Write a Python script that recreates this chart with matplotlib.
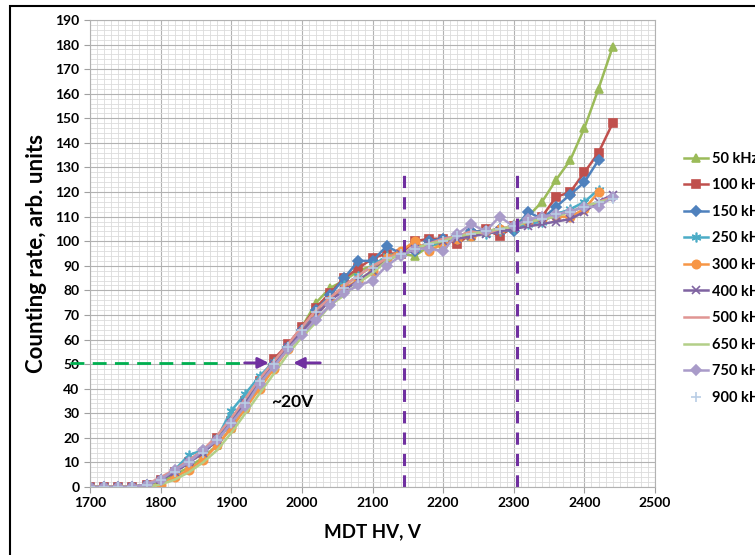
import numpy as np
import matplotlib
matplotlib.use("Agg")
import matplotlib.pyplot as plt
from matplotlib.patches import Rectangle
from matplotlib.ticker import MultipleLocator

plt.rcParams['font.family'] = ['Lato', 'DejaVu Sans']

# MDT high voltage, V (20 V steps)
hv = list(range(1700, 2441, 20))

nan = np.nan
# counting rate, arb. units, per rate setting
r50 = [0, 0, 0, 0, 1, 2, 5, 8, 12, 17, 24, 32, 41, 49, 57, 65, 75, 81, 84, 88, 90, 93, 95, 94,
       98, 99, 101, 102, 104, 104, 107, 110, 116, 125, 133, 146, 162, 179]
r100 = [0, 0, 0, 0, 1, 3, 6, 10, 14, 20, 27, 35, 43, 52, 58, 65, 73, 79, 85, 89, 93, 95, 95, 100,
        101, 101, 99, 103, 105, 102, 106, 108, 110, 118, 120, 128, 136, 148]
r150 = [0, 0, 0, 0, 1, 3, 6, 10, 14, 19, 27, 35, 43, 50, 57, 64, 72, 78, 85, 92, 92, 98, 95, 96,
        100, 101, 102, 104, 104, 105, 104, 112, 109, 114, 119, 124, 133, nan]
r250 = [0, 0, 0, 0, 1, 3, 7, 13, 15, 20, 31, 38, 45, 51, 57, 63, 70, 76, 82, 86, 90, 94, 95, 97,
        98, 100, 101, 103, 103, 104, 105, 107, 108, 111, 113, 116, 121, nan]
r300 = [0, 0, 0, 0, 0, 1, 4, 7, 11, 17, 24, 32, 40, 48, 56, 63, 70, 76, 81, 84, 88, 93, 96, 100,
        96, 99, 101, 102, 104, 105, 106, 108, 109, 110, 110, 113, 120, nan]
r400 = [0, 0, 0, 0, 1, 3, 6, 10, 14, 19, 26, 34, 42, 50, 57, 63, 70, 76, 80, 84, 88, 92, 95, 97,
        99, 100, 101, 102, 103, 104, 105, 106, 107, 108, 109, 112, 116, 119]
r500 = [0, 0, 0, 0, 1, 4, 7, 11, 15, 21, 28, 36, 44, 51, 58, 65, 72, 77, 82, 86, 90, 93, 95, 97,
        99, 101, 102, 104, 103, 105, 106, 108, 109, 111, 112, 114, 116, 118]
r650 = [0, 0, 0, 0, 0, 1, 3, 6, 10, 15, 22, 30, 38, 46, 54, 61, 67, 74, 78, 83, 87, 92, 95, 97,
        99, 100, 102, 103, 104, 105, 106, 108, 109, 110, 112, 114, 116, 117]
r750 = [0, 0, 0, 0, 1, 3, 7, 10, 15, 19, 26, 33, 42, 49, 56, 62, 68, 74, 79, 82, 84, 90, 94, 97,
        97, 96, 103, 107, 104, 110, 106, 109, 110, 111, 112, 114, 114, 118]
r900 = [0, 0, 0, 0, 1, 3, 6, 10, 14, 19, 26, 34, 43, 50, 57, 64, 71, 77, 81, 85, 89, 93, 95, 97,
        99, 100, 102, 103, 104, 105, 106, 108, 109, 111, 112, 114, 116, 117]

labels = ['50 kHz', '100 kHz', '150 kHz', '250 kHz', '300 kHz', '400 kHz',
          '500 kHz', '650 kHz', '750 kHz', '900 kHz']
series = [r50, r100, r150, r250, r300, r400, r500, r650, r750, r900]
colors = ['#9BBB59', '#C0504D', '#4F81BD', '#4BACC6', '#F79646', '#7F63A1',
          '#E09593', '#B3CF88', '#A99BC9', '#B9CDE5']
markers = ['^', 's', 'D', (6, 2, 0), 'o', 'x', None, None, 'D', '+']
msizes = [6, 6, 5, 7, 6, 6, 0, 0, 5, 7]

fig = plt.figure(figsize=(7.55, 5.55), dpi=100)
ax = fig.add_axes([90 / 755, 1 - 487 / 555, 565 / 755, 467 / 555])

for y, lab, c, m, ms in zip(series, labels, colors, markers, msizes):
    ls = 'none' if lab == '900 kHz' else '-'
    ax.plot(hv, y, color=c, marker=m, markersize=ms, lw=1.8, ls=ls,
            markeredgewidth=1.2, label=lab)

ax.set_xlim(1700, 2500)
ax.set_ylim(0, 190)
ax.xaxis.set_major_locator(MultipleLocator(100))
ax.xaxis.set_minor_locator(MultipleLocator(10))
ax.yaxis.set_major_locator(MultipleLocator(10))
ax.yaxis.set_minor_locator(MultipleLocator(2))
ax.grid(which='major', color='#B2B2B2', lw=0.8)
ax.grid(which='minor', color='#DCDCDC', lw=0.6)
ax.set_axisbelow(True)
for s in ax.spines.values():
    s.set_color('#B2B2B2')
ax.tick_params(which='major', direction='out', length=4, color='#A0A0A0',
               labelsize=10)
ax.tick_params(which='minor', length=0)
for t in ax.get_xticklabels() + ax.get_yticklabels():
    t.set_fontweight('bold')

ax.set_xlabel('MDT HV, V', fontsize=13.5, fontweight='bold', labelpad=10)
ax.set_ylabel('Counting rate, arb. units', fontsize=16, fontweight='bold', labelpad=6)

# operating plateau markers
for xv in (2145, 2305):
    ax.plot([xv, xv], [0, 127], color='#7030A0', lw=2.2, dashes=(4, 3))

# half-height level and spread
ax.plot([1672, 1917], [50.5, 50.5], color='#00B050', lw=2, dashes=(5, 3), clip_on=False)
ax.annotate('', xy=(1957, 50.5), xytext=(1915, 50.5),
            arrowprops=dict(arrowstyle='-|>', color='#7030A0', lw=2, mutation_scale=16))
ax.annotate('', xy=(1984, 50.5), xytext=(2030, 50.5),
            arrowprops=dict(arrowstyle='-|>', color='#7030A0', lw=2, mutation_scale=16))
ax.text(1986, 34.5, '~20V', fontsize=12.5, fontweight='bold', ha='center', va='center')

fig.legend(loc='upper left', bbox_to_anchor=(678 / 755, 1 - 146 / 555), frameon=False,
           prop={'size': 10.5, 'weight': 'bold'}, handlelength=1.65, handletextpad=0.25,
           labelspacing=0.86, borderaxespad=0)

fig.patches.append(Rectangle((10 / 755, -0.05), 1.1, 1.05 - 6 / 555, transform=fig.transFigure,
                             fill=False, edgecolor='black', lw=1.5))

fig.savefig('out.png', dpi=100)
